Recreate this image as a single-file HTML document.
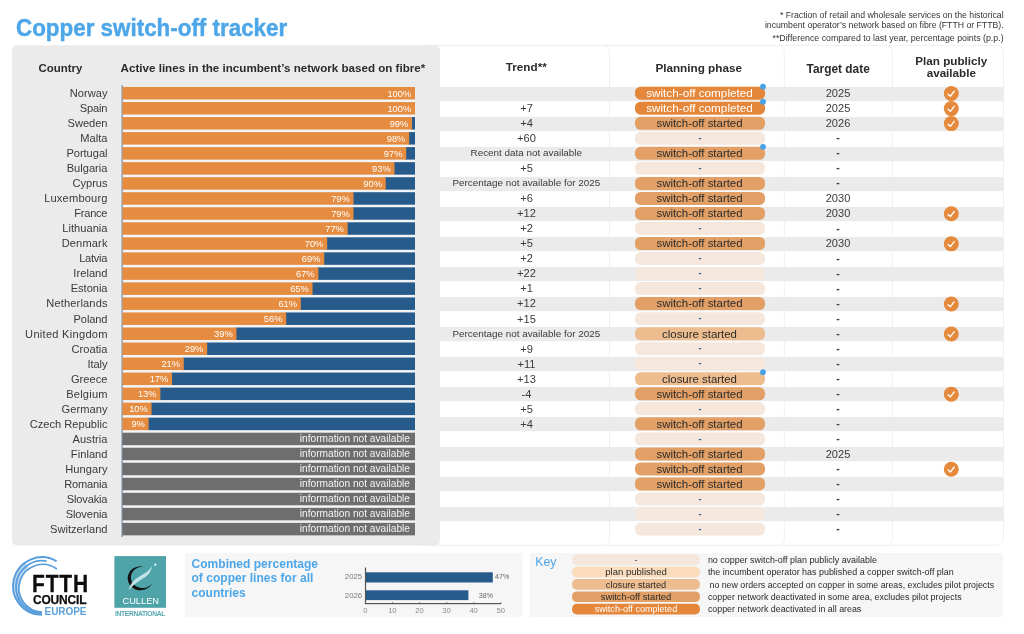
<!DOCTYPE html>
<html><head><meta charset="utf-8"><title>Copper switch-off tracker</title>
<style>
html,body{margin:0;padding:0;background:#fff;}
body{width:1024px;height:634px;position:relative;overflow:hidden;font-family:"Liberation Sans", sans-serif;}
body>div,body>svg{position:absolute;}
.t{white-space:nowrap;}
#tx{left:0;top:0;width:1024px;height:634px;will-change:transform;}
#tx>div{position:absolute;}
</style></head><body>
<svg width="1024" height="634" viewBox="0 0 1024 634" style="left:0;top:0">
<rect x="420.00" y="45.40" width="583.50" height="499.80" fill="#fff" rx="6" stroke="#f0f0f0" stroke-width="1"/>
<rect x="420.00" y="45.40" width="472.40" height="499.80" fill="#fff" rx="6" stroke="#f0f0f0" stroke-width="1"/>
<rect x="420.00" y="45.40" width="364.30" height="499.80" fill="#fff" rx="6" stroke="#f0f0f0" stroke-width="1"/>
<rect x="420.00" y="45.40" width="189.50" height="499.80" fill="#fff" rx="6" stroke="#f0f0f0" stroke-width="1"/>
<rect x="12.00" y="45.30" width="427.90" height="500.20" fill="#ebebeb" rx="5"/>
<rect x="439.50" y="86.90" width="564.10" height="14.30" fill="#ebebeb"/>
<rect x="439.50" y="116.90" width="564.10" height="14.30" fill="#ebebeb"/>
<rect x="439.50" y="146.90" width="564.10" height="14.30" fill="#ebebeb"/>
<rect x="439.50" y="176.90" width="564.10" height="14.30" fill="#ebebeb"/>
<rect x="439.50" y="206.90" width="564.10" height="14.30" fill="#ebebeb"/>
<rect x="439.50" y="236.90" width="564.10" height="14.30" fill="#ebebeb"/>
<rect x="439.50" y="266.90" width="564.10" height="14.30" fill="#ebebeb"/>
<rect x="439.50" y="296.90" width="564.10" height="14.30" fill="#ebebeb"/>
<rect x="439.50" y="326.90" width="564.10" height="14.30" fill="#ebebeb"/>
<rect x="439.50" y="356.90" width="564.10" height="14.30" fill="#ebebeb"/>
<rect x="439.50" y="386.90" width="564.10" height="14.30" fill="#ebebeb"/>
<rect x="439.50" y="416.90" width="564.10" height="14.30" fill="#ebebeb"/>
<rect x="439.50" y="446.90" width="564.10" height="14.30" fill="#ebebeb"/>
<rect x="439.50" y="476.90" width="564.10" height="14.30" fill="#ebebeb"/>
<rect x="439.50" y="506.90" width="564.10" height="14.30" fill="#ebebeb"/>
<rect x="121.70" y="85.50" width="1.00" height="451.30" fill="#2a5f93"/>
<rect x="122.70" y="87.00" width="292.30" height="448.37" fill="#f2f4f7"/>
<rect x="122.30" y="87.00" width="292.70" height="12.50" fill="#e58c40"/>
<rect x="635.00" y="86.70" width="130.00" height="13.00" fill="#e5873a" rx="5.5"/>
<circle cx="763.00" cy="86.70" r="2.9" fill="#47a3e6"/>
<g transform="translate(943.80 86.05)"><circle cx="7.5" cy="7.5" r="7.5" fill="#e58a3c"/><path d="M4.2 8.2 L6.6 10.2 L10.4 5.2" fill="none" stroke="#fff" stroke-width="1.3" stroke-linecap="round" stroke-linejoin="round"/></g>
<rect x="122.30" y="102.03" width="292.70" height="12.50" fill="#e58c40"/>
<rect x="635.00" y="101.73" width="130.00" height="13.00" fill="#e5873a" rx="5.5"/>
<circle cx="763.00" cy="101.73" r="2.9" fill="#47a3e6"/>
<g transform="translate(943.80 101.08)"><circle cx="7.5" cy="7.5" r="7.5" fill="#e58a3c"/><path d="M4.2 8.2 L6.6 10.2 L10.4 5.2" fill="none" stroke="#fff" stroke-width="1.3" stroke-linecap="round" stroke-linejoin="round"/></g>
<rect x="411.07" y="117.06" width="3.93" height="12.50" fill="#265b8c"/>
<rect x="122.30" y="117.06" width="289.77" height="12.50" fill="#e58c40"/>
<rect x="635.00" y="116.76" width="130.00" height="13.00" fill="#e2a066" rx="5.5"/>
<g transform="translate(943.80 116.11)"><circle cx="7.5" cy="7.5" r="7.5" fill="#e58a3c"/><path d="M4.2 8.2 L6.6 10.2 L10.4 5.2" fill="none" stroke="#fff" stroke-width="1.3" stroke-linecap="round" stroke-linejoin="round"/></g>
<rect x="408.15" y="132.09" width="6.85" height="12.50" fill="#265b8c"/>
<rect x="122.30" y="132.09" width="286.85" height="12.50" fill="#e58c40"/>
<rect x="635.00" y="131.79" width="130.00" height="13.00" fill="#f6e7dc" rx="5.5"/>
<rect x="405.22" y="147.12" width="9.78" height="12.50" fill="#265b8c"/>
<rect x="122.30" y="147.12" width="283.92" height="12.50" fill="#e58c40"/>
<rect x="635.00" y="146.82" width="130.00" height="13.00" fill="#e2a066" rx="5.5"/>
<circle cx="763.00" cy="146.82" r="2.9" fill="#47a3e6"/>
<rect x="393.51" y="162.15" width="21.49" height="12.50" fill="#265b8c"/>
<rect x="122.30" y="162.15" width="272.21" height="12.50" fill="#e58c40"/>
<rect x="635.00" y="161.85" width="130.00" height="13.00" fill="#f6e7dc" rx="5.5"/>
<rect x="384.73" y="177.18" width="30.27" height="12.50" fill="#265b8c"/>
<rect x="122.30" y="177.18" width="263.43" height="12.50" fill="#e58c40"/>
<rect x="635.00" y="176.88" width="130.00" height="13.00" fill="#e2a066" rx="5.5"/>
<rect x="352.53" y="192.21" width="62.47" height="12.50" fill="#265b8c"/>
<rect x="122.30" y="192.21" width="231.23" height="12.50" fill="#e58c40"/>
<rect x="635.00" y="191.91" width="130.00" height="13.00" fill="#e2a066" rx="5.5"/>
<rect x="352.53" y="207.24" width="62.47" height="12.50" fill="#265b8c"/>
<rect x="122.30" y="207.24" width="231.23" height="12.50" fill="#e58c40"/>
<rect x="635.00" y="206.94" width="130.00" height="13.00" fill="#e2a066" rx="5.5"/>
<g transform="translate(943.80 206.29)"><circle cx="7.5" cy="7.5" r="7.5" fill="#e58a3c"/><path d="M4.2 8.2 L6.6 10.2 L10.4 5.2" fill="none" stroke="#fff" stroke-width="1.3" stroke-linecap="round" stroke-linejoin="round"/></g>
<rect x="346.68" y="222.27" width="68.32" height="12.50" fill="#265b8c"/>
<rect x="122.30" y="222.27" width="225.38" height="12.50" fill="#e58c40"/>
<rect x="635.00" y="221.97" width="130.00" height="13.00" fill="#f6e7dc" rx="5.5"/>
<rect x="326.19" y="237.30" width="88.81" height="12.50" fill="#265b8c"/>
<rect x="122.30" y="237.30" width="204.89" height="12.50" fill="#e58c40"/>
<rect x="635.00" y="237.00" width="130.00" height="13.00" fill="#e2a066" rx="5.5"/>
<g transform="translate(943.80 236.35)"><circle cx="7.5" cy="7.5" r="7.5" fill="#e58a3c"/><path d="M4.2 8.2 L6.6 10.2 L10.4 5.2" fill="none" stroke="#fff" stroke-width="1.3" stroke-linecap="round" stroke-linejoin="round"/></g>
<rect x="323.26" y="252.33" width="91.74" height="12.50" fill="#265b8c"/>
<rect x="122.30" y="252.33" width="201.96" height="12.50" fill="#e58c40"/>
<rect x="635.00" y="252.03" width="130.00" height="13.00" fill="#f6e7dc" rx="5.5"/>
<rect x="317.41" y="267.36" width="97.59" height="12.50" fill="#265b8c"/>
<rect x="122.30" y="267.36" width="196.11" height="12.50" fill="#e58c40"/>
<rect x="635.00" y="267.06" width="130.00" height="13.00" fill="#f6e7dc" rx="5.5"/>
<rect x="311.56" y="282.39" width="103.44" height="12.50" fill="#265b8c"/>
<rect x="122.30" y="282.39" width="190.25" height="12.50" fill="#e58c40"/>
<rect x="635.00" y="282.09" width="130.00" height="13.00" fill="#f6e7dc" rx="5.5"/>
<rect x="299.85" y="297.42" width="115.15" height="12.50" fill="#265b8c"/>
<rect x="122.30" y="297.42" width="178.55" height="12.50" fill="#e58c40"/>
<rect x="635.00" y="297.12" width="130.00" height="13.00" fill="#e2a066" rx="5.5"/>
<g transform="translate(943.80 296.47)"><circle cx="7.5" cy="7.5" r="7.5" fill="#e58a3c"/><path d="M4.2 8.2 L6.6 10.2 L10.4 5.2" fill="none" stroke="#fff" stroke-width="1.3" stroke-linecap="round" stroke-linejoin="round"/></g>
<rect x="285.21" y="312.45" width="129.79" height="12.50" fill="#265b8c"/>
<rect x="122.30" y="312.45" width="163.91" height="12.50" fill="#e58c40"/>
<rect x="635.00" y="312.15" width="130.00" height="13.00" fill="#f6e7dc" rx="5.5"/>
<rect x="235.45" y="327.48" width="179.55" height="12.50" fill="#265b8c"/>
<rect x="122.30" y="327.48" width="114.15" height="12.50" fill="#e58c40"/>
<rect x="635.00" y="327.18" width="130.00" height="13.00" fill="#eebd8f" rx="5.5"/>
<g transform="translate(943.80 326.53)"><circle cx="7.5" cy="7.5" r="7.5" fill="#e58a3c"/><path d="M4.2 8.2 L6.6 10.2 L10.4 5.2" fill="none" stroke="#fff" stroke-width="1.3" stroke-linecap="round" stroke-linejoin="round"/></g>
<rect x="206.18" y="342.51" width="208.82" height="12.50" fill="#265b8c"/>
<rect x="122.30" y="342.51" width="84.88" height="12.50" fill="#e58c40"/>
<rect x="635.00" y="342.21" width="130.00" height="13.00" fill="#f6e7dc" rx="5.5"/>
<rect x="182.77" y="357.54" width="232.23" height="12.50" fill="#265b8c"/>
<rect x="122.30" y="357.54" width="61.47" height="12.50" fill="#e58c40"/>
<rect x="635.00" y="357.24" width="130.00" height="13.00" fill="#f6e7dc" rx="5.5"/>
<rect x="171.06" y="372.57" width="243.94" height="12.50" fill="#265b8c"/>
<rect x="122.30" y="372.57" width="49.76" height="12.50" fill="#e58c40"/>
<rect x="635.00" y="372.27" width="130.00" height="13.00" fill="#eebd8f" rx="5.5"/>
<circle cx="763.00" cy="372.27" r="2.9" fill="#47a3e6"/>
<rect x="159.35" y="387.60" width="255.65" height="12.50" fill="#265b8c"/>
<rect x="122.30" y="387.60" width="38.05" height="12.50" fill="#e58c40"/>
<rect x="635.00" y="387.30" width="130.00" height="13.00" fill="#e2a066" rx="5.5"/>
<g transform="translate(943.80 386.65)"><circle cx="7.5" cy="7.5" r="7.5" fill="#e58a3c"/><path d="M4.2 8.2 L6.6 10.2 L10.4 5.2" fill="none" stroke="#fff" stroke-width="1.3" stroke-linecap="round" stroke-linejoin="round"/></g>
<rect x="150.57" y="402.63" width="264.43" height="12.50" fill="#265b8c"/>
<rect x="122.30" y="402.63" width="29.27" height="12.50" fill="#e58c40"/>
<rect x="635.00" y="402.33" width="130.00" height="13.00" fill="#f6e7dc" rx="5.5"/>
<rect x="147.64" y="417.66" width="267.36" height="12.50" fill="#265b8c"/>
<rect x="122.30" y="417.66" width="26.34" height="12.50" fill="#e58c40"/>
<rect x="635.00" y="417.36" width="130.00" height="13.00" fill="#e2a066" rx="5.5"/>
<rect x="122.30" y="432.69" width="292.70" height="12.50" fill="#6e6e6e"/>
<rect x="635.00" y="432.39" width="130.00" height="13.00" fill="#f6e7dc" rx="5.5"/>
<rect x="122.30" y="447.72" width="292.70" height="12.50" fill="#6e6e6e"/>
<rect x="635.00" y="447.42" width="130.00" height="13.00" fill="#e2a066" rx="5.5"/>
<rect x="122.30" y="462.75" width="292.70" height="12.50" fill="#6e6e6e"/>
<rect x="635.00" y="462.45" width="130.00" height="13.00" fill="#e2a066" rx="5.5"/>
<g transform="translate(943.80 461.80)"><circle cx="7.5" cy="7.5" r="7.5" fill="#e58a3c"/><path d="M4.2 8.2 L6.6 10.2 L10.4 5.2" fill="none" stroke="#fff" stroke-width="1.3" stroke-linecap="round" stroke-linejoin="round"/></g>
<rect x="122.30" y="477.78" width="292.70" height="12.50" fill="#6e6e6e"/>
<rect x="635.00" y="477.48" width="130.00" height="13.00" fill="#e2a066" rx="5.5"/>
<rect x="122.30" y="492.81" width="292.70" height="12.50" fill="#6e6e6e"/>
<rect x="635.00" y="492.51" width="130.00" height="13.00" fill="#f6e7dc" rx="5.5"/>
<rect x="122.30" y="507.84" width="292.70" height="12.50" fill="#6e6e6e"/>
<rect x="635.00" y="507.54" width="130.00" height="13.00" fill="#f6e7dc" rx="5.5"/>
<rect x="122.30" y="522.87" width="292.70" height="12.50" fill="#6e6e6e"/>
<rect x="635.00" y="522.57" width="130.00" height="13.00" fill="#f6e7dc" rx="5.5"/>
<g fill="none" stroke="#589ddb" stroke-linecap="butt" transform="translate(0 0.5)"><path d="M26.07 563.29 A27.6 27.6 0 0 0 42.00 613.50" stroke-width="2.6" stroke="#b9d6f0"/><path d="M28.10 566.54 A25.1 25.1 0 0 0 42.00 612.20" stroke-width="2.6" stroke="#b9d6f0"/><path d="M56.63 560.81 A28.8 28.8 0 1 0 42.00 614.30" stroke-width="1.9"/><path d="M46.60 560.60 A26.35 26.35 0 1 0 42.00 612.95" stroke-width="1.8"/><path d="M56.87 568.46 A23.9 23.9 0 1 0 42.00 611.64" stroke-width="1.7"/></g>
<rect x="114.40" y="556.10" width="51.60" height="51.70" fill="#4fa4aa"/>
<g><path d="M143.6 566.7 A12.8 12.0 0 1 0 151.9 583.8 A11.7 10.7 0 1 1 143.6 566.7 Z" fill="#121212"/><path d="M128.8 590.6 C129.8 581.5 138 577.3 142 574.9 C146.5 572.2 150 570.2 151.9 566.0 C151.5 571.8 147.6 575.8 143.3 578.3 C138.8 581 133.6 584.2 128.8 590.6 Z" fill="#c3e4e8"/><circle cx="155.3" cy="564.6" r="1.2" fill="#e4f3f5"/></g>
<rect x="185.10" y="552.80" width="337.30" height="64.50" fill="#f6f6f6" rx="2"/>
<rect x="365.50" y="572.30" width="127.28" height="10.20" fill="#265b8c"/>
<rect x="365.50" y="590.30" width="102.90" height="9.80" fill="#265b8c"/>
<rect x="364.90" y="567.50" width="1.20" height="36.60" fill="#555"/>
<rect x="364.90" y="603.00" width="136.20" height="1.20" fill="#555"/>
<rect x="365.10" y="602.00" width="0.80" height="1.20" fill="#666"/>
<rect x="392.18" y="602.00" width="0.80" height="1.20" fill="#666"/>
<rect x="419.26" y="602.00" width="0.80" height="1.20" fill="#666"/>
<rect x="446.34" y="602.00" width="0.80" height="1.20" fill="#666"/>
<rect x="473.42" y="602.00" width="0.80" height="1.20" fill="#666"/>
<rect x="500.50" y="602.00" width="0.80" height="1.20" fill="#666"/>
<rect x="530.10" y="553.00" width="473.20" height="64.00" fill="#f6f6f6" rx="2"/>
<rect x="572.00" y="554.50" width="128.00" height="10.70" fill="#f6e7dc" rx="5"/>
<rect x="572.00" y="566.80" width="128.00" height="10.70" fill="#fbdcbd" rx="5"/>
<rect x="572.00" y="579.10" width="128.00" height="10.70" fill="#eebd8f" rx="5"/>
<rect x="572.00" y="591.40" width="128.00" height="10.70" fill="#e2a066" rx="5"/>
<rect x="572.00" y="603.70" width="128.00" height="10.70" fill="#e5873a" rx="5"/>
</svg>
<div id="tx">
<div class="t" style="top:13px;line-height:29px;height:29px;font-size:24px;color:#4da6e8;font-weight:700;left:16.00px;transform:scaleX(0.933);transform-origin:0 50%;-webkit-text-stroke:0.45px #4da6e8;">Copper switch-off tracker</div>
<div class="t" style="top:9px;line-height:12px;height:12px;font-size:8.7px;color:#333;left:503.60px;width:500px;text-align:right;">* Fraction of retail and wholesale services on the historical</div>
<div class="t" style="top:19px;line-height:12px;height:12px;font-size:8.7px;color:#333;left:503.60px;width:500px;text-align:right;">incumbent operator’s network based on fibre (FTTH or FTTB).</div>
<div class="t" style="top:32px;line-height:12px;height:12px;font-size:8.81px;color:#333;left:503.60px;width:500px;text-align:right;">**Difference compared to last year, percentage points (p.p.)</div>
<div class="t" style="top:61px;line-height:14px;height:14px;font-size:11.45px;color:#2b2b2b;font-weight:700;left:38.60px;">Country</div>
<div class="t" style="top:60px;line-height:15px;height:15px;font-size:11.62px;color:#2b2b2b;font-weight:700;left:120.60px;">Active lines in the incumbent’s network based on fibre*</div>
<div class="t" style="top:59px;line-height:15px;height:15px;font-size:11.7px;color:#2b2b2b;font-weight:700;left:276.30px;width:500px;text-align:center;">Trend**</div>
<div class="t" style="top:60px;line-height:15px;height:15px;font-size:11.72px;color:#2b2b2b;font-weight:700;left:448.70px;width:500px;text-align:center;">Planning phase</div>
<div class="t" style="top:61px;line-height:16px;height:16px;font-size:11.89px;color:#2b2b2b;font-weight:700;left:588.20px;width:500px;text-align:center;">Target date</div>
<div class="t" style="top:53px;line-height:15px;height:15px;font-size:11.67px;color:#2b2b2b;font-weight:700;left:701.30px;width:500px;text-align:center;">Plan publicly</div>
<div class="t" style="top:65px;line-height:15px;height:15px;font-size:11.67px;color:#2b2b2b;font-weight:700;left:701.30px;width:500px;text-align:center;">available</div>
<div class="t" style="top:86px;line-height:14px;height:14px;font-size:11.1px;color:#3a3a3a;letter-spacing:0.046px;left:-392.45px;width:500px;text-align:right;">Norway</div>
<div class="t" style="top:88px;line-height:12px;height:12px;font-size:9.3px;color:#fff;left:-88.80px;width:500px;text-align:right;">100%</div>
<div class="t" style="top:85px;line-height:15px;height:15px;font-size:11.72px;color:#fff;left:449.50px;width:500px;text-align:center;">switch-off completed</div>
<div class="t" style="top:86px;line-height:14px;height:14px;font-size:11.06px;color:#3a3a3a;left:588.00px;width:500px;text-align:center;">2025</div>
<div class="t" style="top:101px;line-height:14px;height:14px;font-size:11.1px;color:#3a3a3a;letter-spacing:-0.138px;left:-392.64px;width:500px;text-align:right;">Spain</div>
<div class="t" style="top:103px;line-height:12px;height:12px;font-size:9.3px;color:#fff;left:-88.80px;width:500px;text-align:right;">100%</div>
<div class="t" style="top:101px;line-height:14px;height:14px;font-size:11.1px;color:#3a3a3a;left:276.50px;width:500px;text-align:center;">+7</div>
<div class="t" style="top:100px;line-height:15px;height:15px;font-size:11.72px;color:#fff;left:449.50px;width:500px;text-align:center;">switch-off completed</div>
<div class="t" style="top:101px;line-height:14px;height:14px;font-size:11.06px;color:#3a3a3a;left:588.00px;width:500px;text-align:center;">2025</div>
<div class="t" style="top:116px;line-height:14px;height:14px;font-size:11.1px;color:#3a3a3a;letter-spacing:-0.036px;left:-392.54px;width:500px;text-align:right;">Sweden</div>
<div class="t" style="top:118px;line-height:12px;height:12px;font-size:9.3px;color:#fff;left:-91.73px;width:500px;text-align:right;">99%</div>
<div class="t" style="top:116px;line-height:14px;height:14px;font-size:11.1px;color:#3a3a3a;left:276.50px;width:500px;text-align:center;">+4</div>
<div class="t" style="top:116px;line-height:14px;height:14px;font-size:11.43px;color:#2b2b2b;left:449.50px;width:500px;text-align:center;">switch-off started</div>
<div class="t" style="top:116px;line-height:14px;height:14px;font-size:11.06px;color:#3a3a3a;left:588.00px;width:500px;text-align:center;">2026</div>
<div class="t" style="top:131px;line-height:14px;height:14px;font-size:11.1px;color:#3a3a3a;letter-spacing:0.011px;left:-392.49px;width:500px;text-align:right;">Malta</div>
<div class="t" style="top:133px;line-height:12px;height:12px;font-size:9.3px;color:#fff;left:-94.65px;width:500px;text-align:right;">98%</div>
<div class="t" style="top:131px;line-height:14px;height:14px;font-size:11.1px;color:#3a3a3a;left:276.50px;width:500px;text-align:center;">+60</div>
<div class="t" style="top:131px;line-height:13px;height:13px;font-size:9.5px;color:#2f5a8a;font-weight:700;left:450.00px;width:500px;text-align:center;">-</div>
<div class="t" style="top:130px;line-height:14px;height:14px;font-size:10.5px;color:#3a3a3a;font-weight:700;left:588.00px;width:500px;text-align:center;">-</div>
<div class="t" style="top:146px;line-height:14px;height:14px;font-size:11.1px;color:#3a3a3a;letter-spacing:-0.03px;left:-392.53px;width:500px;text-align:right;">Portugal</div>
<div class="t" style="top:148px;line-height:12px;height:12px;font-size:9.3px;color:#fff;left:-97.58px;width:500px;text-align:right;">97%</div>
<div class="t" style="top:146px;line-height:13px;height:13px;font-size:9.9px;color:#3a3a3a;left:276.30px;width:500px;text-align:center;">Recent data not available</div>
<div class="t" style="top:146px;line-height:14px;height:14px;font-size:11.43px;color:#2b2b2b;left:449.50px;width:500px;text-align:center;">switch-off started</div>
<div class="t" style="top:145px;line-height:14px;height:14px;font-size:10.5px;color:#3a3a3a;font-weight:700;left:588.00px;width:500px;text-align:center;">-</div>
<div class="t" style="top:161px;line-height:14px;height:14px;font-size:11.1px;color:#3a3a3a;letter-spacing:0.022px;left:-392.48px;width:500px;text-align:right;">Bulgaria</div>
<div class="t" style="top:163px;line-height:12px;height:12px;font-size:9.3px;color:#fff;left:-109.29px;width:500px;text-align:right;">93%</div>
<div class="t" style="top:161px;line-height:14px;height:14px;font-size:11.1px;color:#3a3a3a;left:276.50px;width:500px;text-align:center;">+5</div>
<div class="t" style="top:161px;line-height:13px;height:13px;font-size:9.5px;color:#2f5a8a;font-weight:700;left:450.00px;width:500px;text-align:center;">-</div>
<div class="t" style="top:160px;line-height:14px;height:14px;font-size:10.5px;color:#3a3a3a;font-weight:700;left:588.00px;width:500px;text-align:center;">-</div>
<div class="t" style="top:176px;line-height:14px;height:14px;font-size:11.1px;color:#3a3a3a;letter-spacing:-0.027px;left:-392.53px;width:500px;text-align:right;">Cyprus</div>
<div class="t" style="top:178px;line-height:12px;height:12px;font-size:9.3px;color:#fff;left:-118.07px;width:500px;text-align:right;">90%</div>
<div class="t" style="top:176px;line-height:13px;height:13px;font-size:9.9px;color:#3a3a3a;left:276.30px;width:500px;text-align:center;">Percentage not available for 2025</div>
<div class="t" style="top:176px;line-height:14px;height:14px;font-size:11.43px;color:#2b2b2b;left:449.50px;width:500px;text-align:center;">switch-off started</div>
<div class="t" style="top:175px;line-height:14px;height:14px;font-size:10.5px;color:#3a3a3a;font-weight:700;left:588.00px;width:500px;text-align:center;">-</div>
<div class="t" style="top:191px;line-height:14px;height:14px;font-size:11.1px;color:#3a3a3a;letter-spacing:0.189px;left:-392.31px;width:500px;text-align:right;">Luxembourg</div>
<div class="t" style="top:193px;line-height:12px;height:12px;font-size:9.3px;color:#fff;left:-150.27px;width:500px;text-align:right;">79%</div>
<div class="t" style="top:191px;line-height:14px;height:14px;font-size:11.1px;color:#3a3a3a;left:276.50px;width:500px;text-align:center;">+6</div>
<div class="t" style="top:191px;line-height:14px;height:14px;font-size:11.43px;color:#2b2b2b;left:449.50px;width:500px;text-align:center;">switch-off started</div>
<div class="t" style="top:191px;line-height:14px;height:14px;font-size:11.06px;color:#3a3a3a;left:588.00px;width:500px;text-align:center;">2030</div>
<div class="t" style="top:206px;line-height:14px;height:14px;font-size:11.1px;color:#3a3a3a;letter-spacing:-0.258px;left:-392.76px;width:500px;text-align:right;">France</div>
<div class="t" style="top:208px;line-height:12px;height:12px;font-size:9.3px;color:#fff;left:-150.27px;width:500px;text-align:right;">79%</div>
<div class="t" style="top:206px;line-height:14px;height:14px;font-size:11.1px;color:#3a3a3a;left:276.50px;width:500px;text-align:center;">+12</div>
<div class="t" style="top:206px;line-height:14px;height:14px;font-size:11.43px;color:#2b2b2b;left:449.50px;width:500px;text-align:center;">switch-off started</div>
<div class="t" style="top:206px;line-height:14px;height:14px;font-size:11.06px;color:#3a3a3a;left:588.00px;width:500px;text-align:center;">2030</div>
<div class="t" style="top:221px;line-height:14px;height:14px;font-size:11.1px;color:#3a3a3a;letter-spacing:0.027px;left:-392.47px;width:500px;text-align:right;">Lithuania</div>
<div class="t" style="top:223px;line-height:12px;height:12px;font-size:9.3px;color:#fff;left:-156.12px;width:500px;text-align:right;">77%</div>
<div class="t" style="top:221px;line-height:14px;height:14px;font-size:11.1px;color:#3a3a3a;left:276.50px;width:500px;text-align:center;">+2</div>
<div class="t" style="top:221px;line-height:13px;height:13px;font-size:9.5px;color:#2f5a8a;font-weight:700;left:450.00px;width:500px;text-align:center;">-</div>
<div class="t" style="top:221px;line-height:14px;height:14px;font-size:10.5px;color:#3a3a3a;font-weight:700;left:588.00px;width:500px;text-align:center;">-</div>
<div class="t" style="top:236px;line-height:14px;height:14px;font-size:11.1px;color:#3a3a3a;letter-spacing:0.139px;left:-392.36px;width:500px;text-align:right;">Denmark</div>
<div class="t" style="top:238px;line-height:12px;height:12px;font-size:9.3px;color:#fff;left:-176.61px;width:500px;text-align:right;">70%</div>
<div class="t" style="top:236px;line-height:14px;height:14px;font-size:11.1px;color:#3a3a3a;left:276.50px;width:500px;text-align:center;">+5</div>
<div class="t" style="top:236px;line-height:14px;height:14px;font-size:11.43px;color:#2b2b2b;left:449.50px;width:500px;text-align:center;">switch-off started</div>
<div class="t" style="top:236px;line-height:14px;height:14px;font-size:11.06px;color:#3a3a3a;left:588.00px;width:500px;text-align:center;">2030</div>
<div class="t" style="top:251px;line-height:14px;height:14px;font-size:11.1px;color:#3a3a3a;letter-spacing:-0.253px;left:-392.75px;width:500px;text-align:right;">Latvia</div>
<div class="t" style="top:253px;line-height:12px;height:12px;font-size:9.3px;color:#fff;left:-179.54px;width:500px;text-align:right;">69%</div>
<div class="t" style="top:251px;line-height:14px;height:14px;font-size:11.1px;color:#3a3a3a;left:276.50px;width:500px;text-align:center;">+2</div>
<div class="t" style="top:251px;line-height:13px;height:13px;font-size:9.5px;color:#2f5a8a;font-weight:700;left:450.00px;width:500px;text-align:center;">-</div>
<div class="t" style="top:251px;line-height:14px;height:14px;font-size:10.5px;color:#3a3a3a;font-weight:700;left:588.00px;width:500px;text-align:center;">-</div>
<div class="t" style="top:266px;line-height:14px;height:14px;font-size:11.1px;color:#3a3a3a;letter-spacing:0.051px;left:-392.45px;width:500px;text-align:right;">Ireland</div>
<div class="t" style="top:268px;line-height:12px;height:12px;font-size:9.3px;color:#fff;left:-185.39px;width:500px;text-align:right;">67%</div>
<div class="t" style="top:266px;line-height:14px;height:14px;font-size:11.1px;color:#3a3a3a;left:276.50px;width:500px;text-align:center;">+22</div>
<div class="t" style="top:266px;line-height:13px;height:13px;font-size:9.5px;color:#2f5a8a;font-weight:700;left:450.00px;width:500px;text-align:center;">-</div>
<div class="t" style="top:266px;line-height:14px;height:14px;font-size:10.5px;color:#3a3a3a;font-weight:700;left:588.00px;width:500px;text-align:center;">-</div>
<div class="t" style="top:281px;line-height:14px;height:14px;font-size:11.1px;color:#3a3a3a;letter-spacing:-0.046px;left:-392.55px;width:500px;text-align:right;">Estonia</div>
<div class="t" style="top:283px;line-height:12px;height:12px;font-size:9.3px;color:#fff;left:-191.25px;width:500px;text-align:right;">65%</div>
<div class="t" style="top:281px;line-height:14px;height:14px;font-size:11.1px;color:#3a3a3a;left:276.50px;width:500px;text-align:center;">+1</div>
<div class="t" style="top:281px;line-height:13px;height:13px;font-size:9.5px;color:#2f5a8a;font-weight:700;left:450.00px;width:500px;text-align:center;">-</div>
<div class="t" style="top:281px;line-height:14px;height:14px;font-size:10.5px;color:#3a3a3a;font-weight:700;left:588.00px;width:500px;text-align:center;">-</div>
<div class="t" style="top:296px;line-height:14px;height:14px;font-size:11.1px;color:#3a3a3a;letter-spacing:0.141px;left:-392.36px;width:500px;text-align:right;">Netherlands</div>
<div class="t" style="top:298px;line-height:12px;height:12px;font-size:9.3px;color:#fff;left:-202.95px;width:500px;text-align:right;">61%</div>
<div class="t" style="top:296px;line-height:14px;height:14px;font-size:11.1px;color:#3a3a3a;left:276.50px;width:500px;text-align:center;">+12</div>
<div class="t" style="top:296px;line-height:14px;height:14px;font-size:11.43px;color:#2b2b2b;left:449.50px;width:500px;text-align:center;">switch-off started</div>
<div class="t" style="top:296px;line-height:14px;height:14px;font-size:10.5px;color:#3a3a3a;font-weight:700;left:588.00px;width:500px;text-align:center;">-</div>
<div class="t" style="top:312px;line-height:14px;height:14px;font-size:11.1px;color:#3a3a3a;letter-spacing:-0.127px;left:-392.63px;width:500px;text-align:right;">Poland</div>
<div class="t" style="top:313px;line-height:12px;height:12px;font-size:9.3px;color:#fff;left:-217.59px;width:500px;text-align:right;">56%</div>
<div class="t" style="top:312px;line-height:14px;height:14px;font-size:11.1px;color:#3a3a3a;left:276.50px;width:500px;text-align:center;">+15</div>
<div class="t" style="top:311px;line-height:13px;height:13px;font-size:9.5px;color:#2f5a8a;font-weight:700;left:450.00px;width:500px;text-align:center;">-</div>
<div class="t" style="top:311px;line-height:14px;height:14px;font-size:10.5px;color:#3a3a3a;font-weight:700;left:588.00px;width:500px;text-align:center;">-</div>
<div class="t" style="top:327px;line-height:14px;height:14px;font-size:11.1px;color:#3a3a3a;letter-spacing:0.266px;left:-392.23px;width:500px;text-align:right;">United Kingdom</div>
<div class="t" style="top:328px;line-height:12px;height:12px;font-size:9.3px;color:#fff;left:-267.35px;width:500px;text-align:right;">39%</div>
<div class="t" style="top:327px;line-height:13px;height:13px;font-size:9.9px;color:#3a3a3a;left:276.30px;width:500px;text-align:center;">Percentage not available for 2025</div>
<div class="t" style="top:327px;line-height:14px;height:14px;font-size:11.43px;color:#2b2b2b;left:449.50px;width:500px;text-align:center;">closure started</div>
<div class="t" style="top:326px;line-height:14px;height:14px;font-size:10.5px;color:#3a3a3a;font-weight:700;left:588.00px;width:500px;text-align:center;">-</div>
<div class="t" style="top:342px;line-height:14px;height:14px;font-size:11.1px;color:#3a3a3a;letter-spacing:0.06px;left:-392.44px;width:500px;text-align:right;">Croatia</div>
<div class="t" style="top:343px;line-height:12px;height:12px;font-size:9.3px;color:#fff;left:-296.62px;width:500px;text-align:right;">29%</div>
<div class="t" style="top:342px;line-height:14px;height:14px;font-size:11.1px;color:#3a3a3a;left:276.50px;width:500px;text-align:center;">+9</div>
<div class="t" style="top:341px;line-height:13px;height:13px;font-size:9.5px;color:#2f5a8a;font-weight:700;left:450.00px;width:500px;text-align:center;">-</div>
<div class="t" style="top:341px;line-height:14px;height:14px;font-size:10.5px;color:#3a3a3a;font-weight:700;left:588.00px;width:500px;text-align:center;">-</div>
<div class="t" style="top:357px;line-height:14px;height:14px;font-size:11.1px;color:#3a3a3a;letter-spacing:-0.111px;left:-392.61px;width:500px;text-align:right;">Italy</div>
<div class="t" style="top:358px;line-height:12px;height:12px;font-size:9.3px;color:#fff;left:-320.03px;width:500px;text-align:right;">21%</div>
<div class="t" style="top:357px;line-height:14px;height:14px;font-size:11.1px;color:#3a3a3a;left:276.50px;width:500px;text-align:center;">+11</div>
<div class="t" style="top:356px;line-height:13px;height:13px;font-size:9.5px;color:#2f5a8a;font-weight:700;left:450.00px;width:500px;text-align:center;">-</div>
<div class="t" style="top:356px;line-height:14px;height:14px;font-size:10.5px;color:#3a3a3a;font-weight:700;left:588.00px;width:500px;text-align:center;">-</div>
<div class="t" style="top:372px;line-height:14px;height:14px;font-size:11.1px;color:#3a3a3a;letter-spacing:0.05px;left:-392.45px;width:500px;text-align:right;">Greece</div>
<div class="t" style="top:373px;line-height:12px;height:12px;font-size:9.3px;color:#fff;left:-331.74px;width:500px;text-align:right;">17%</div>
<div class="t" style="top:372px;line-height:14px;height:14px;font-size:11.1px;color:#3a3a3a;left:276.50px;width:500px;text-align:center;">+13</div>
<div class="t" style="top:372px;line-height:14px;height:14px;font-size:11.43px;color:#2b2b2b;left:449.50px;width:500px;text-align:center;">closure started</div>
<div class="t" style="top:371px;line-height:14px;height:14px;font-size:10.5px;color:#3a3a3a;font-weight:700;left:588.00px;width:500px;text-align:center;">-</div>
<div class="t" style="top:387px;line-height:14px;height:14px;font-size:11.1px;color:#3a3a3a;letter-spacing:0.214px;left:-392.29px;width:500px;text-align:right;">Belgium</div>
<div class="t" style="top:388px;line-height:12px;height:12px;font-size:9.3px;color:#fff;left:-343.45px;width:500px;text-align:right;">13%</div>
<div class="t" style="top:387px;line-height:14px;height:14px;font-size:11.1px;color:#3a3a3a;left:276.50px;width:500px;text-align:center;">-4</div>
<div class="t" style="top:387px;line-height:14px;height:14px;font-size:11.43px;color:#2b2b2b;left:449.50px;width:500px;text-align:center;">switch-off started</div>
<div class="t" style="top:386px;line-height:14px;height:14px;font-size:10.5px;color:#3a3a3a;font-weight:700;left:588.00px;width:500px;text-align:center;">-</div>
<div class="t" style="top:402px;line-height:14px;height:14px;font-size:11.1px;color:#3a3a3a;letter-spacing:0.05px;left:-392.45px;width:500px;text-align:right;">Germany</div>
<div class="t" style="top:403px;line-height:12px;height:12px;font-size:9.3px;color:#fff;left:-352.23px;width:500px;text-align:right;">10%</div>
<div class="t" style="top:402px;line-height:14px;height:14px;font-size:11.1px;color:#3a3a3a;left:276.50px;width:500px;text-align:center;">+5</div>
<div class="t" style="top:402px;line-height:13px;height:13px;font-size:9.5px;color:#2f5a8a;font-weight:700;left:450.00px;width:500px;text-align:center;">-</div>
<div class="t" style="top:401px;line-height:14px;height:14px;font-size:10.5px;color:#3a3a3a;font-weight:700;left:588.00px;width:500px;text-align:center;">-</div>
<div class="t" style="top:417px;line-height:14px;height:14px;font-size:11.1px;color:#3a3a3a;letter-spacing:0.004px;left:-392.50px;width:500px;text-align:right;">Czech Republic</div>
<div class="t" style="top:418px;line-height:12px;height:12px;font-size:9.3px;color:#fff;left:-355.16px;width:500px;text-align:right;">9%</div>
<div class="t" style="top:417px;line-height:14px;height:14px;font-size:11.1px;color:#3a3a3a;left:276.50px;width:500px;text-align:center;">+4</div>
<div class="t" style="top:417px;line-height:14px;height:14px;font-size:11.43px;color:#2b2b2b;left:449.50px;width:500px;text-align:center;">switch-off started</div>
<div class="t" style="top:416px;line-height:14px;height:14px;font-size:10.5px;color:#3a3a3a;font-weight:700;left:588.00px;width:500px;text-align:center;">-</div>
<div class="t" style="top:432px;line-height:14px;height:14px;font-size:11.1px;color:#3a3a3a;letter-spacing:0.065px;left:-392.44px;width:500px;text-align:right;">Austria</div>
<div class="t" style="top:432px;line-height:13px;height:13px;font-size:10.18px;color:#f4f4f4;left:-90.00px;width:500px;text-align:right;">information not available</div>
<div class="t" style="top:432px;line-height:13px;height:13px;font-size:9.5px;color:#2f5a8a;font-weight:700;left:450.00px;width:500px;text-align:center;">-</div>
<div class="t" style="top:431px;line-height:14px;height:14px;font-size:10.5px;color:#3a3a3a;font-weight:700;left:588.00px;width:500px;text-align:center;">-</div>
<div class="t" style="top:447px;line-height:14px;height:14px;font-size:11.1px;color:#3a3a3a;letter-spacing:0.042px;left:-392.46px;width:500px;text-align:right;">Finland</div>
<div class="t" style="top:447px;line-height:13px;height:13px;font-size:10.18px;color:#f4f4f4;left:-90.00px;width:500px;text-align:right;">information not available</div>
<div class="t" style="top:447px;line-height:14px;height:14px;font-size:11.43px;color:#2b2b2b;left:449.50px;width:500px;text-align:center;">switch-off started</div>
<div class="t" style="top:447px;line-height:14px;height:14px;font-size:11.06px;color:#3a3a3a;left:588.00px;width:500px;text-align:center;">2025</div>
<div class="t" style="top:462px;line-height:14px;height:14px;font-size:11.1px;color:#3a3a3a;letter-spacing:0.049px;left:-392.45px;width:500px;text-align:right;">Hungary</div>
<div class="t" style="top:462px;line-height:13px;height:13px;font-size:10.18px;color:#f4f4f4;left:-90.00px;width:500px;text-align:right;">information not available</div>
<div class="t" style="top:462px;line-height:14px;height:14px;font-size:11.43px;color:#2b2b2b;left:449.50px;width:500px;text-align:center;">switch-off started</div>
<div class="t" style="top:461px;line-height:14px;height:14px;font-size:10.5px;color:#3a3a3a;font-weight:700;left:588.00px;width:500px;text-align:center;">-</div>
<div class="t" style="top:477px;line-height:14px;height:14px;font-size:11.1px;color:#3a3a3a;letter-spacing:-0.189px;left:-392.69px;width:500px;text-align:right;">Romania</div>
<div class="t" style="top:477px;line-height:13px;height:13px;font-size:10.18px;color:#f4f4f4;left:-90.00px;width:500px;text-align:right;">information not available</div>
<div class="t" style="top:477px;line-height:14px;height:14px;font-size:11.43px;color:#2b2b2b;left:449.50px;width:500px;text-align:center;">switch-off started</div>
<div class="t" style="top:476px;line-height:14px;height:14px;font-size:10.5px;color:#3a3a3a;font-weight:700;left:588.00px;width:500px;text-align:center;">-</div>
<div class="t" style="top:492px;line-height:14px;height:14px;font-size:11.1px;color:#3a3a3a;letter-spacing:-0.169px;left:-392.67px;width:500px;text-align:right;">Slovakia</div>
<div class="t" style="top:492px;line-height:13px;height:13px;font-size:10.18px;color:#f4f4f4;left:-90.00px;width:500px;text-align:right;">information not available</div>
<div class="t" style="top:492px;line-height:13px;height:13px;font-size:9.5px;color:#2f5a8a;font-weight:700;left:450.00px;width:500px;text-align:center;">-</div>
<div class="t" style="top:491px;line-height:14px;height:14px;font-size:10.5px;color:#3a3a3a;font-weight:700;left:588.00px;width:500px;text-align:center;">-</div>
<div class="t" style="top:507px;line-height:14px;height:14px;font-size:11.1px;color:#3a3a3a;letter-spacing:-0.097px;left:-392.60px;width:500px;text-align:right;">Slovenia</div>
<div class="t" style="top:507px;line-height:13px;height:13px;font-size:10.18px;color:#f4f4f4;left:-90.00px;width:500px;text-align:right;">information not available</div>
<div class="t" style="top:507px;line-height:13px;height:13px;font-size:9.5px;color:#2f5a8a;font-weight:700;left:450.00px;width:500px;text-align:center;">-</div>
<div class="t" style="top:506px;line-height:14px;height:14px;font-size:10.5px;color:#3a3a3a;font-weight:700;left:588.00px;width:500px;text-align:center;">-</div>
<div class="t" style="top:522px;line-height:14px;height:14px;font-size:11.1px;color:#3a3a3a;letter-spacing:0.011px;left:-392.49px;width:500px;text-align:right;">Switzerland</div>
<div class="t" style="top:522px;line-height:13px;height:13px;font-size:10.18px;color:#f4f4f4;left:-90.00px;width:500px;text-align:right;">information not available</div>
<div class="t" style="top:522px;line-height:13px;height:13px;font-size:9.5px;color:#2f5a8a;font-weight:700;left:450.00px;width:500px;text-align:center;">-</div>
<div class="t" style="top:521px;line-height:14px;height:14px;font-size:10.5px;color:#3a3a3a;font-weight:700;left:588.00px;width:500px;text-align:center;">-</div>
<div class="t" style="top:569px;line-height:29px;height:29px;font-size:24px;color:#0c0c0c;font-weight:700;letter-spacing:1.0px;left:32.40px;transform:scaleX(0.872);transform-origin:0 50%;-webkit-text-stroke:0.3px #0c0c0c;">FTTH</div>
<div class="t" style="top:592px;line-height:16px;height:16px;font-size:12.0px;color:#0c0c0c;font-weight:700;letter-spacing:-0.2px;left:33.00px;-webkit-text-stroke:0.25px #0c0c0c;">COUNCIL</div>
<div class="t" style="top:605px;line-height:13px;height:13px;font-size:10px;color:#5a9fd9;font-weight:700;letter-spacing:-0.07px;left:44.60px;">EUROPE</div>
<div class="t" style="top:595px;line-height:12px;height:12px;font-size:9.25px;color:#fff;left:122.50px;">CULLEN</div>
<div class="t" style="top:609px;line-height:9px;height:9px;font-size:6.7px;color:#55a7ad;font-weight:700;letter-spacing:-0.3px;left:114.90px;">INTERNATIONAL</div>
<div class="t" style="top:556px;line-height:16px;height:16px;font-size:12.05px;color:#4da6e8;font-weight:700;left:191.50px;">Combined percentage</div>
<div class="t" style="top:570px;line-height:16px;height:16px;font-size:12.05px;color:#4da6e8;font-weight:700;left:191.50px;">of copper lines for all</div>
<div class="t" style="top:585px;line-height:16px;height:16px;font-size:12.05px;color:#4da6e8;font-weight:700;left:191.50px;">countries</div>
<div class="t" style="top:605px;line-height:11px;height:11px;font-size:7.6px;color:#8a8a8a;left:115.30px;width:500px;text-align:center;">0</div>
<div class="t" style="top:605px;line-height:11px;height:11px;font-size:7.6px;color:#8a8a8a;left:142.38px;width:500px;text-align:center;">10</div>
<div class="t" style="top:605px;line-height:11px;height:11px;font-size:7.6px;color:#8a8a8a;left:169.46px;width:500px;text-align:center;">20</div>
<div class="t" style="top:605px;line-height:11px;height:11px;font-size:7.6px;color:#8a8a8a;left:196.54px;width:500px;text-align:center;">30</div>
<div class="t" style="top:605px;line-height:11px;height:11px;font-size:7.6px;color:#8a8a8a;left:223.62px;width:500px;text-align:center;">40</div>
<div class="t" style="top:605px;line-height:11px;height:11px;font-size:7.6px;color:#8a8a8a;left:250.70px;width:500px;text-align:center;">50</div>
<div class="t" style="top:571px;line-height:11px;height:11px;font-size:7.8px;color:#777;left:-137.80px;width:500px;text-align:right;">2025</div>
<div class="t" style="top:590px;line-height:11px;height:11px;font-size:7.8px;color:#777;left:-137.80px;width:500px;text-align:right;">2026</div>
<div class="t" style="top:572px;line-height:10px;height:10px;font-size:7.1px;color:#666;left:495.00px;">47%</div>
<div class="t" style="top:591px;line-height:10px;height:10px;font-size:7.1px;color:#666;left:478.80px;">38%</div>
<div class="t" style="top:554px;line-height:16px;height:16px;font-size:12.3px;color:#4da6e8;left:535.20px;">Key</div>
<div class="t" style="top:554px;line-height:12px;height:12px;font-size:9px;color:#444;left:386.00px;width:500px;text-align:center;">-</div>
<div class="t" style="top:554px;line-height:12px;height:12px;font-size:8.94px;color:#2b2b2b;left:707.90px;">no copper switch-off plan publicly available</div>
<div class="t" style="top:565px;line-height:13px;height:13px;font-size:9.55px;color:#2b2b2b;left:386.00px;width:500px;text-align:center;">plan published</div>
<div class="t" style="top:566px;line-height:12px;height:12px;font-size:8.93px;color:#2b2b2b;left:707.90px;">the incumbent operator has published a copper switch-off plan</div>
<div class="t" style="top:579px;line-height:12px;height:12px;font-size:9.2px;color:#2b2b2b;left:386.00px;width:500px;text-align:center;">closure started</div>
<div class="t" style="top:579px;line-height:12px;height:12px;font-size:8.8px;color:#2b2b2b;left:709.50px;">no new orders accepted on copper in some areas, excludes pilot projects</div>
<div class="t" style="top:591px;line-height:12px;height:12px;font-size:9.37px;color:#2b2b2b;left:386.00px;width:500px;text-align:center;">switch-off started</div>
<div class="t" style="top:591px;line-height:12px;height:12px;font-size:8.86px;color:#2b2b2b;left:707.90px;">copper network deactivated in some area, excludes pilot projects</div>
<div class="t" style="top:603px;line-height:12px;height:12px;font-size:9.07px;color:#fff;left:386.00px;width:500px;text-align:center;">switch-off completed</div>
<div class="t" style="top:603px;line-height:12px;height:12px;font-size:8.85px;color:#2b2b2b;left:707.90px;">copper network deactivated in all areas</div>
</div>
<!--BOTTOM-->
</body></html>
